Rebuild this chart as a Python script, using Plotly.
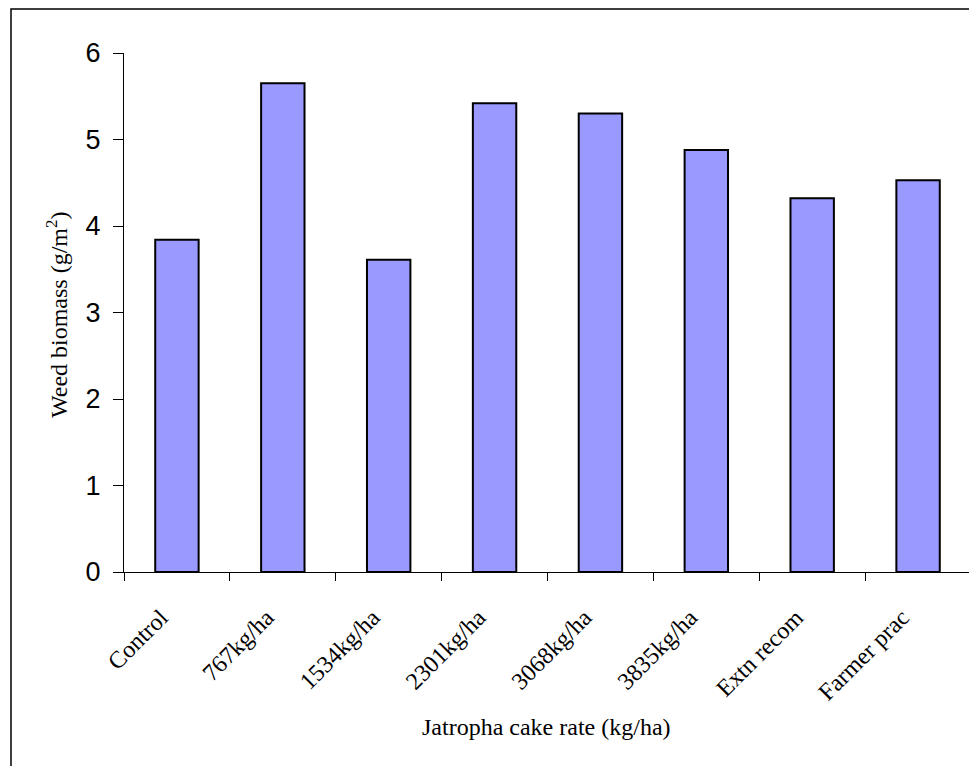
import plotly.graph_objects as go

categories = ["Control", "767kg/ha", "1534kg/ha", "2301kg/ha", "3068kg/ha",
              "3835kg/ha", "Extn recom", "Farmer prac"]
biomass = [3.84, 5.65, 3.61, 5.42, 5.30, 4.88, 4.32, 4.53]
y_ticks = [0, 1, 2, 3, 4, 5, 6]

# page has an 8px body margin; figure coordinates are page coordinates minus 8
OFF = 8
W, H = 977 - OFF, 766 - OFF
L, R, T, B = 124 - OFF, 6, 53 - OFF, 194
pw, ph = W - L - R, H - T - B

fig = go.Figure()
fig.add_trace(go.Bar(
    x=categories, y=biomass, width=0.41,
    marker=dict(color="#9999FF", line=dict(color="black", width=2)),
))

def px_x(p):  # page pixel -> paper x
    return (p - OFF - L) / pw

def px_y(p):  # page pixel -> paper y
    return (H - B - (p - OFF)) / ph

fig.update_layout(
    width=W, height=H,
    margin=dict(l=L, r=R, t=T, b=B),
    paper_bgcolor="white", plot_bgcolor="white",
    showlegend=False,
    xaxis=dict(
        showline=True, linecolor="black", linewidth=1,
        ticks="outside", ticklen=8, tickcolor="black", tickson="boundaries",
        tickangle=-45, ticklabelstandoff=21, ticklabelshift=-16,
        tickfont=dict(family="Liberation Serif", size=24, color="black"),
        showgrid=False,
    ),
    yaxis=dict(
        range=[0, 6], tickvals=y_ticks,
        showline=True, linecolor="black", linewidth=1,
        ticks="outside", ticklen=10, tickcolor="black", ticklabelstandoff=7,
        tickfont=dict(family="Liberation Sans", size=27, color="black"),
        showgrid=False, zeroline=False,
    ),
    annotations=[
        dict(text="Jatropha cake rate (kg/ha)", xref="paper", yref="paper",
             x=px_x(546), y=px_y(727), showarrow=False,
             xanchor="center", yanchor="middle",
             font=dict(family="Liberation Serif", size=24, color="black")),
        dict(text="Weed biomass (g/m<sup>2</sup>)", xref="paper", yref="paper",
             x=px_x(57), y=px_y(315), showarrow=False, textangle=-90,
             xanchor="center", yanchor="middle",
             font=dict(family="Liberation Serif", size=24, color="black")),
    ],
    shapes=[dict(
        type="rect", xref="paper", yref="paper",
        x0=px_x(11), x1=px_x(1000), y0=px_y(800), y1=px_y(9),
        line=dict(color="black", width=1.5), fillcolor="rgba(0,0,0,0)", layer="below",
    )],
)

fig.write_html("out.html")
